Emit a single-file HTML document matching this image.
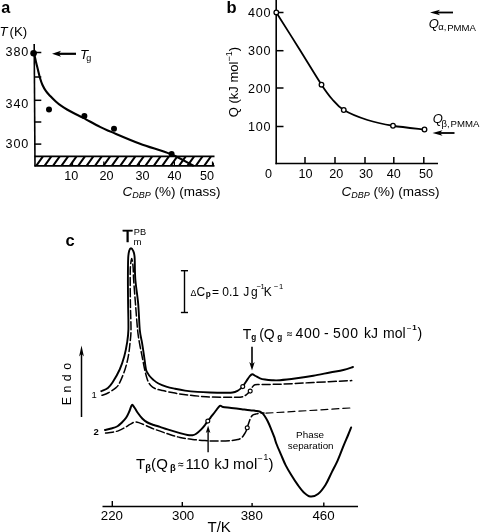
<!DOCTYPE html>
<html><head><meta charset="utf-8"><style>
html,body{margin:0;padding:0;background:#fff;}
body{width:480px;height:532px;overflow:hidden;}
svg{display:block;font-family:"Liberation Sans", sans-serif;will-change:transform;}
text{fill:#000;}
</style></head><body>
<svg width="480" height="532" viewBox="0 0 480 532" font-family='"Liberation Sans", sans-serif'>
<text x="1.2" y="13" font-size="16.2" text-anchor="start" font-weight="bold" font-style="normal" >a</text>
<text x="-0.6" y="36.4" font-size="13.2" font-style="italic">T</text>
<text x="9.6" y="36.4" font-size="13.2" text-anchor="start" font-weight="normal" font-style="normal" >(K)</text>
<text x="5.6" y="56.2" font-size="12.6" text-anchor="start" font-weight="normal" font-style="normal" letter-spacing="0.8">380</text>
<text x="5.6" y="107.6" font-size="12.6" text-anchor="start" font-weight="normal" font-style="normal" letter-spacing="0.8">340</text>
<text x="5.6" y="148.2" font-size="12.6" text-anchor="start" font-weight="normal" font-style="normal" letter-spacing="0.8">300</text>
<line x1="34.2" y1="44" x2="35.0" y2="166.5" stroke="#000" stroke-width="1.6" />
<line x1="34" y1="52.5" x2="41.3" y2="52.5" stroke="#000" stroke-width="1.5" />
<line x1="34" y1="77" x2="41.3" y2="77" stroke="#000" stroke-width="1.5" />
<line x1="34" y1="100.3" x2="41.3" y2="100.3" stroke="#000" stroke-width="1.5" />
<line x1="34" y1="122" x2="41.3" y2="122" stroke="#000" stroke-width="1.5" />
<line x1="34" y1="144.1" x2="41.3" y2="144.1" stroke="#000" stroke-width="1.5" />
<defs><clipPath id="bar"><rect x="35" y="156.5" width="179" height="9"/></clipPath></defs>
<path d="M28.00,165.5 L34.50,156.5 M36.40,165.5 L42.90,156.5 M44.80,165.5 L51.30,156.5 M53.20,165.5 L59.70,156.5 M61.60,165.5 L68.10,156.5 M70.00,165.5 L76.50,156.5 M78.40,165.5 L84.90,156.5 M86.80,165.5 L93.30,156.5 M95.20,165.5 L101.70,156.5 M103.60,165.5 L110.10,156.5 M112.00,165.5 L118.50,156.5 M120.40,165.5 L126.90,156.5 M128.80,165.5 L135.30,156.5 M137.20,165.5 L143.70,156.5 M145.60,165.5 L152.10,156.5 M154.00,165.5 L160.50,156.5 M162.40,165.5 L168.90,156.5 M170.80,165.5 L177.30,156.5 M179.20,165.5 L185.70,156.5 M187.60,165.5 L194.10,156.5 M196.00,165.5 L202.50,156.5 M204.40,165.5 L210.90,156.5 M212.80,165.5 L219.30,156.5" stroke="#000" stroke-width="2.1" clip-path="url(#bar)"/>
<line x1="34.5" y1="156.4" x2="214.5" y2="156.4" stroke="#000" stroke-width="1.6" />
<line x1="34.5" y1="165.8" x2="214.5" y2="165.8" stroke="#000" stroke-width="1.8" />
<line x1="72.5" y1="161.5" x2="72.5" y2="165.5" stroke="#000" stroke-width="1.2" />
<line x1="103.8" y1="161.5" x2="103.8" y2="165.5" stroke="#000" stroke-width="1.2" />
<line x1="139.4" y1="161.5" x2="139.4" y2="165.5" stroke="#000" stroke-width="1.2" />
<line x1="174.4" y1="161.5" x2="174.4" y2="165.5" stroke="#000" stroke-width="1.2" />
<line x1="212.5" y1="161.5" x2="212.5" y2="165.5" stroke="#000" stroke-width="1.2" />
<text x="71.2" y="179.8" font-size="12.6" text-anchor="middle" font-weight="normal" font-style="normal" >10</text>
<text x="106.4" y="179.8" font-size="12.6" text-anchor="middle" font-weight="normal" font-style="normal" >20</text>
<text x="142.4" y="179.8" font-size="12.6" text-anchor="middle" font-weight="normal" font-style="normal" >30</text>
<text x="174.6" y="179.8" font-size="12.6" text-anchor="middle" font-weight="normal" font-style="normal" >40</text>
<text x="207.1" y="179.8" font-size="12.6" text-anchor="middle" font-weight="normal" font-style="normal" >50</text>
<text x="122.6" y="196.3" font-size="13.5"><tspan font-style="italic">C</tspan><tspan font-style="italic" font-size="9" dy="2">DBP</tspan><tspan dy="-2"> (%) (mass)</tspan></text>
<path d="M34.00,53.00 C34.33,54.50 35.33,59.17 36.00,62.00 C36.67,64.83 37.33,67.33 38.00,70.00 C38.67,72.67 39.25,75.50 40.00,78.00 C40.75,80.50 41.50,82.80 42.50,85.00 C43.50,87.20 44.67,89.32 46.00,91.20 C47.33,93.08 48.92,94.63 50.50,96.30 C52.08,97.97 53.75,99.63 55.50,101.20 C57.25,102.77 59.08,104.32 61.00,105.70 C62.92,107.08 64.83,108.23 67.00,109.50 C69.17,110.77 71.21,111.87 74.00,113.30 C76.79,114.73 79.42,115.83 83.75,118.10 C88.08,120.37 95.42,124.60 100.00,126.90 C104.58,129.20 104.58,129.09 111.25,131.90 C117.92,134.71 130.04,140.02 140.00,143.75 C149.96,147.48 162.17,150.68 171.00,154.30 C179.83,157.93 189.33,163.63 193.00,165.50" fill="none" stroke="#000" stroke-width="2.1" stroke-linecap="round" stroke-linejoin="round"  />
<circle cx="33.6" cy="53.3" r="3.3" fill="#000"/>
<circle cx="49" cy="109.5" r="3" fill="#000"/>
<circle cx="84.4" cy="116" r="3" fill="#000"/>
<circle cx="114" cy="128.75" r="3" fill="#000"/>
<circle cx="171.6" cy="154" r="3" fill="#000"/>
<line x1="57.4" y1="53.8" x2="76" y2="53.8" stroke="#000" stroke-width="2.2" />
<polygon points="52,53.8 61,50.8 58.75,53.8 61,56.8" fill="#000"/>
<text x="80" y="59.1" font-size="13.4" font-style="italic">T</text>
<text x="86.2" y="60.5" font-size="9" text-anchor="start" font-weight="normal" font-style="normal" >g</text>
<text x="226.4" y="13.2" font-size="16.5" text-anchor="start" font-weight="bold" font-style="normal" >b</text>
<text x="248.0" y="16.6" font-size="12.6" text-anchor="start" font-weight="normal" font-style="normal" letter-spacing="0.8">400</text>
<text x="248.0" y="55" font-size="12.6" text-anchor="start" font-weight="normal" font-style="normal" letter-spacing="0.8">300</text>
<text x="248.0" y="93" font-size="12.6" text-anchor="start" font-weight="normal" font-style="normal" letter-spacing="0.8">200</text>
<text x="248.0" y="131.3" font-size="12.6" text-anchor="start" font-weight="normal" font-style="normal" letter-spacing="0.8">100</text>
<line x1="276.2" y1="0" x2="276.2" y2="164.2" stroke="#000" stroke-width="1.6" />
<line x1="276" y1="12.5" x2="283.5" y2="12.5" stroke="#000" stroke-width="1.5" />
<line x1="276" y1="50.7" x2="283.5" y2="50.7" stroke="#000" stroke-width="1.5" />
<line x1="276" y1="88" x2="283.5" y2="88" stroke="#000" stroke-width="1.5" />
<line x1="276" y1="126.5" x2="283.5" y2="126.5" stroke="#000" stroke-width="1.5" />
<line x1="275.5" y1="163.5" x2="438" y2="163.5" stroke="#000" stroke-width="1.6" />
<line x1="305" y1="157" x2="305" y2="163" stroke="#000" stroke-width="1.5" />
<line x1="335" y1="157" x2="335" y2="163" stroke="#000" stroke-width="1.5" />
<line x1="365" y1="157" x2="365" y2="163" stroke="#000" stroke-width="1.5" />
<line x1="393.8" y1="157" x2="393.8" y2="163" stroke="#000" stroke-width="1.5" />
<line x1="423.8" y1="157" x2="423.8" y2="163" stroke="#000" stroke-width="1.5" />
<text x="268.6" y="178" font-size="12.6" text-anchor="middle" font-weight="normal" font-style="normal" >0</text>
<text x="305.4" y="178" font-size="12.6" text-anchor="middle" font-weight="normal" font-style="normal" >10</text>
<text x="336.2" y="178" font-size="12.6" text-anchor="middle" font-weight="normal" font-style="normal" >20</text>
<text x="366" y="178" font-size="12.6" text-anchor="middle" font-weight="normal" font-style="normal" >30</text>
<text x="393.8" y="178" font-size="12.6" text-anchor="middle" font-weight="normal" font-style="normal" >40</text>
<text x="426" y="178" font-size="12.6" text-anchor="middle" font-weight="normal" font-style="normal" >50</text>
<text x="341.6" y="195.5" font-size="13.5"><tspan font-style="italic">C</tspan><tspan font-style="italic" font-size="9" dy="2">DBP</tspan><tspan dy="-2"> (%) (mass)</tspan></text>
<text transform="translate(238.0,117.2) rotate(-90)" font-size="13">Q (kJ mol<tspan font-size="9" dy="-6">−1</tspan><tspan dy="6">)</tspan></text>
<path d="M276.30,12.40 C280.08,18.42 291.47,36.45 299.00,48.50 C306.53,60.55 316.00,76.28 321.50,84.70 C327.00,93.12 328.29,94.78 332.00,99.00 C335.71,103.22 337.83,106.50 343.75,110.00 C349.67,113.50 359.29,117.38 367.50,120.00 C375.71,122.62 383.50,124.17 393.00,125.75 C402.50,127.33 419.25,128.88 424.50,129.50" fill="none" stroke="#000" stroke-width="1.8" stroke-linecap="round" stroke-linejoin="round"  />
<circle cx="276.3" cy="12.4" r="2.3" fill="#fff" stroke="#000" stroke-width="1.3"/>
<circle cx="321.5" cy="84.7" r="2.3" fill="#fff" stroke="#000" stroke-width="1.3"/>
<circle cx="343.75" cy="110" r="2.3" fill="#fff" stroke="#000" stroke-width="1.3"/>
<circle cx="393" cy="125.75" r="2.3" fill="#fff" stroke="#000" stroke-width="1.3"/>
<circle cx="424.5" cy="129.5" r="2.3" fill="#fff" stroke="#000" stroke-width="1.3"/>
<line x1="436.0" y1="12.5" x2="453" y2="12.5" stroke="#000" stroke-width="1.8" />
<polygon points="430,12.5 440,9.7 437.5,12.5 440,15.3" fill="#000"/>
<text x="428.7" y="27.6" font-size="13" font-style="italic">Q</text>
<text x="438.3" y="30.4" font-size="9.5" text-anchor="start" font-weight="normal" font-style="normal" >α,</text>
<text x="447.2" y="31.2" font-size="9.6" text-anchor="start" font-weight="normal" font-style="normal" >PMMA</text>
<line x1="438.5" y1="133" x2="454.5" y2="133" stroke="#000" stroke-width="1.8" />
<polygon points="432.5,133 442.5,130.2 440.0,133 442.5,135.8" fill="#000"/>
<text x="432.7" y="123.0" font-size="13" font-style="italic">Q</text>
<text x="441.5" y="127.0" font-size="9.5" text-anchor="start" font-weight="normal" font-style="normal" >β,</text>
<text x="450.6" y="127.3" font-size="9.6" text-anchor="start" font-weight="normal" font-style="normal" >PMMA</text>
<text x="65.5" y="245.6" font-size="16.5" text-anchor="start" font-weight="bold" font-style="normal" >c</text>
<text x="122.6" y="241.8" font-size="16.8" text-anchor="start" font-weight="normal" font-style="normal" stroke="#000" stroke-width="0.55">T</text>
<text x="133.8" y="234.6" font-size="9.2" text-anchor="start" font-weight="normal" font-style="normal" >PB</text>
<text x="133.5" y="244.7" font-size="9.6" text-anchor="start" font-weight="normal" font-style="normal" >m</text>
<line x1="184.5" y1="270.7" x2="184.5" y2="312.5" stroke="#000" stroke-width="1.4" />
<line x1="180.9" y1="270.7" x2="188" y2="270.7" stroke="#000" stroke-width="1.4" />
<line x1="180.9" y1="312.5" x2="188" y2="312.5" stroke="#000" stroke-width="1.4" />
<text x="190.5" y="295.6" font-size="8.8" text-anchor="start" font-weight="normal" font-style="normal" >Δ</text>
<text x="196.4" y="295.8" font-size="12" text-anchor="start" font-weight="normal" font-style="normal" >C</text>
<text x="205.7" y="297.2" font-size="8.2" text-anchor="start" font-weight="bold" font-style="normal" >p</text>
<text x="212.0" y="295.8" font-size="12" text-anchor="start" font-weight="normal" font-style="normal" >=</text>
<text x="222.3" y="295.8" font-size="12" text-anchor="start" font-weight="normal" font-style="normal" >0.1</text>
<text x="243.3" y="295.8" font-size="12" text-anchor="start" font-weight="normal" font-style="normal" >J</text>
<text x="250.9" y="295.8" font-size="12" text-anchor="start" font-weight="normal" font-style="normal" >g</text>
<text x="256.4" y="289.3" font-size="7.6" text-anchor="start" font-weight="normal" font-style="normal" >−</text>
<text x="260.6" y="289.4" font-size="7.6" text-anchor="start" font-weight="normal" font-style="normal" >1</text>
<text x="263.8" y="295.8" font-size="12" text-anchor="start" font-weight="normal" font-style="normal" >K</text>
<text x="273.7" y="289.3" font-size="7.6" text-anchor="start" font-weight="normal" font-style="normal" >−</text>
<text x="279.0" y="289.4" font-size="7.6" text-anchor="start" font-weight="normal" font-style="normal" >1</text>
<text x="242.8" y="338.5" font-size="14" text-anchor="start" font-weight="normal" font-style="normal" >T</text>
<text x="251.2" y="340.2" font-size="8.2" text-anchor="start" font-weight="bold" font-style="normal" >g</text>
<text x="259.2" y="338.5" font-size="14" text-anchor="start" font-weight="normal" font-style="normal" >(</text>
<text x="263.8" y="338.5" font-size="14" text-anchor="start" font-weight="normal" font-style="normal" >Q</text>
<text x="277.2" y="340.2" font-size="8.2" text-anchor="start" font-weight="bold" font-style="normal" >g</text>
<path d="M287.0,333.14 C288.50,331.62 290.50,334.18 292.0,332.66 M287.0,335.44 C288.50,333.92 290.50,336.48 292.0,334.96 " fill="none" stroke="#000" stroke-width="0.95"/>
<text x="295.6" y="338.3" font-size="14" text-anchor="start" font-weight="normal" font-style="normal" letter-spacing="0.5">400</text>
<text x="324.0" y="338.3" font-size="14" text-anchor="start" font-weight="normal" font-style="normal" >-</text>
<text x="333.1" y="338.3" font-size="14" text-anchor="start" font-weight="normal" font-style="normal" letter-spacing="0.8">500</text>
<text x="363.9" y="338.3" font-size="14" text-anchor="start" font-weight="normal" font-style="normal" >kJ</text>
<text x="383.0" y="337.6" font-size="14" text-anchor="start" font-weight="normal" font-style="normal" >mol</text>
<text x="406.8" y="331.2" font-size="8.5" text-anchor="start" font-weight="normal" font-style="normal" >−</text>
<text x="412.3" y="329.9" font-size="8" text-anchor="start" font-weight="bold" font-style="normal" >1</text>
<text x="417.6" y="338.0" font-size="14" text-anchor="start" font-weight="normal" font-style="normal" >)</text>
<line x1="252" y1="365.5" x2="252" y2="346.8" stroke="#000" stroke-width="1.6" />
<polygon points="252,370.6 249.3,362.1 252,364.225 254.7,362.1" fill="#000"/>
<line x1="81.5" y1="352.20000000000005" x2="81.5" y2="417" stroke="#000" stroke-width="1.5" />
<polygon points="81.5,345.6 79.1,356.6 81.5,353.85 83.9,356.6" fill="#000"/>
<text transform="translate(71.2,405.3) rotate(-90)" font-size="12.4" letter-spacing="4.5">Endo</text>
<text x="91.4" y="397.8" font-size="9.5" text-anchor="start" font-weight="normal" font-style="normal" >1</text>
<text x="93.6" y="434.9" font-size="9.5" text-anchor="start" font-weight="bold" font-style="normal" >2</text>
<path d="M101.30,391.20 C102.40,390.65 106.03,389.33 107.90,387.90 C109.77,386.47 110.53,385.67 112.50,382.60 C114.47,379.53 117.73,373.88 119.70,369.50 C121.67,365.12 123.08,360.68 124.30,356.30 C125.52,351.92 126.32,347.65 127.00,343.20 C127.68,338.75 128.22,336.13 128.40,329.60 C128.58,323.07 128.18,312.43 128.10,304.00 C128.02,295.57 127.88,286.67 127.90,279.00 C127.92,271.33 127.97,262.75 128.20,258.00 C128.43,253.25 128.83,252.13 129.30,250.50 C129.77,248.87 130.38,248.20 131.00,248.20 C131.62,248.20 132.40,249.03 133.00,250.50 C133.60,251.97 134.22,252.25 134.60,257.00 C134.98,261.75 134.70,271.17 135.30,279.00 C135.90,286.83 137.45,295.50 138.20,304.00 C138.95,312.50 139.15,323.47 139.80,330.00 C140.45,336.53 141.38,338.82 142.10,343.20 C142.82,347.58 143.45,351.92 144.10,356.30 C144.75,360.68 145.35,366.62 146.00,369.50 C146.65,372.38 147.33,372.43 148.00,373.60 C148.67,374.77 149.08,375.43 150.00,376.50 C150.92,377.57 152.08,378.83 153.50,380.00 C154.92,381.17 156.38,382.40 158.50,383.50 C160.62,384.60 163.50,385.73 166.25,386.60 C169.00,387.48 171.88,388.08 175.00,388.75 C178.12,389.42 181.25,390.08 185.00,390.60 C188.75,391.12 193.33,391.58 197.50,391.90 C201.67,392.22 205.42,392.37 210.00,392.50 C214.58,392.63 221.25,392.70 225.00,392.70 C228.75,392.70 230.42,392.82 232.50,392.50 C234.58,392.18 236.04,391.53 237.50,390.80 C238.96,390.07 240.38,388.82 241.25,388.10 C242.12,387.38 241.92,387.64 242.75,386.50 C243.58,385.36 245.12,382.92 246.25,381.25 C247.38,379.58 248.49,377.68 249.50,376.50 C250.51,375.32 251.28,374.28 252.30,374.20 C253.32,374.12 254.32,375.32 255.60,376.00 C256.88,376.68 258.43,377.72 260.00,378.30 C261.57,378.88 263.00,379.18 265.00,379.50 C267.00,379.82 269.50,380.08 272.00,380.20 C274.50,380.32 275.88,380.52 280.00,380.20 C284.12,379.88 291.15,379.03 296.70,378.30 C302.25,377.57 307.75,376.77 313.30,375.80 C318.85,374.83 325.00,373.47 330.00,372.50 C335.00,371.53 339.47,370.92 343.30,370.00 C347.13,369.08 351.38,367.50 353.00,367.00" fill="none" stroke="#000" stroke-width="1.9" stroke-linecap="round" stroke-linejoin="round"  />
<path d="M102.00,395.30 C103.00,394.92 105.70,394.23 108.00,393.00 C110.30,391.77 113.85,389.63 115.80,387.90 C117.75,386.17 118.17,385.67 119.70,382.60 C121.23,379.53 123.57,373.88 125.00,369.50 C126.43,365.12 127.47,360.68 128.30,356.30 C129.13,351.92 129.55,347.58 130.00,343.20 C130.45,338.82 130.93,336.53 131.00,330.00 C131.07,323.47 130.53,312.50 130.40,304.00 C130.27,295.50 130.20,285.17 130.20,279.00 C130.20,272.83 130.15,270.42 130.40,267.00 C130.65,263.58 131.25,258.50 131.70,258.50 C132.15,258.50 132.78,263.58 133.10,267.00 C133.42,270.42 133.20,272.83 133.60,279.00 C134.00,285.17 134.83,295.50 135.50,304.00 C136.17,312.50 136.93,323.47 137.60,330.00 C138.27,336.53 138.75,338.82 139.50,343.20 C140.25,347.58 141.23,351.92 142.10,356.30 C142.97,360.68 143.80,365.55 144.70,369.50 C145.60,373.45 146.53,377.38 147.50,380.00 C148.47,382.62 149.25,383.78 150.50,385.20 C151.75,386.62 153.00,387.60 155.00,388.50 C157.00,389.40 159.17,389.83 162.50,390.60 C165.83,391.37 170.83,392.37 175.00,393.10 C179.17,393.83 183.33,394.48 187.50,395.00 C191.67,395.52 195.83,395.90 200.00,396.25 C204.17,396.60 207.83,396.93 212.50,397.10 C217.17,397.28 223.42,397.28 228.00,397.30 C232.58,397.32 237.17,397.48 240.00,397.20 C242.83,396.92 243.65,396.28 245.00,395.60 C246.35,394.92 247.23,393.87 248.10,393.10 C248.97,392.33 249.47,392.03 250.20,391.00 C250.93,389.97 251.70,387.94 252.50,386.90 C253.30,385.86 253.75,385.17 255.00,384.75 C256.25,384.33 255.83,384.49 260.00,384.40 C264.17,384.31 271.12,384.52 280.00,384.20 C288.88,383.88 301.35,383.10 313.30,382.50 C325.25,381.90 345.30,380.92 351.70,380.60" fill="none" stroke="#000" stroke-width="1.5" stroke-linecap="round" stroke-linejoin="round" stroke-dasharray="8,3" />
<circle cx="242.75" cy="386.6" r="1.95" fill="#fff" stroke="#000" stroke-width="1.15"/>
<circle cx="250.2" cy="391.1" r="1.95" fill="#fff" stroke="#000" stroke-width="1.15"/>
<path d="M105.00,430.00 C106.04,429.75 109.17,429.12 111.25,428.50 C113.33,427.88 115.72,427.25 117.50,426.25 C119.28,425.25 120.44,423.96 121.90,422.50 C123.36,421.04 125.00,419.38 126.25,417.50 C127.50,415.62 128.46,413.33 129.40,411.25 C130.34,409.17 131.07,405.62 131.90,405.00 C132.73,404.38 133.47,406.25 134.40,407.50 C135.33,408.75 136.15,410.62 137.50,412.50 C138.85,414.38 140.83,417.08 142.50,418.75 C144.17,420.42 145.62,421.46 147.50,422.50 C149.38,423.54 151.67,424.27 153.75,425.00 C155.83,425.73 157.71,426.17 160.00,426.90 C162.29,427.63 164.17,428.37 167.50,429.40 C170.83,430.43 176.67,432.17 180.00,433.10 C183.33,434.03 185.42,434.64 187.50,435.00 C189.58,435.36 191.04,435.46 192.50,435.25 C193.96,435.04 194.79,434.73 196.25,433.75 C197.71,432.77 199.79,430.86 201.25,429.40 C202.71,427.94 203.91,426.38 205.00,425.00 C206.09,423.62 206.90,422.30 207.80,421.10 C208.70,419.90 209.10,419.48 210.40,417.80 C211.70,416.12 214.03,413.00 215.60,411.00 C217.17,409.00 218.58,406.48 219.80,405.80 C221.02,405.12 220.99,406.55 222.90,406.90 C224.81,407.25 228.12,407.51 231.25,407.90 C234.38,408.29 238.57,408.85 241.70,409.25 C244.82,409.65 247.20,409.98 250.00,410.30 C252.80,410.62 256.53,410.78 258.50,411.20 C260.47,411.62 260.83,412.08 261.80,412.80 C262.77,413.52 263.32,414.08 264.30,415.50 C265.28,416.92 266.58,419.08 267.70,421.30 C268.82,423.52 269.90,426.15 271.00,428.80 C272.10,431.45 273.38,434.67 274.30,437.20 C275.22,439.73 275.38,441.10 276.50,444.00 C277.62,446.90 279.48,451.08 281.00,454.60 C282.52,458.12 283.83,461.60 285.60,465.10 C287.37,468.60 289.60,472.33 291.60,475.60 C293.60,478.87 295.60,481.93 297.60,484.70 C299.60,487.47 301.47,490.23 303.60,492.20 C305.73,494.17 308.00,496.20 310.40,496.50 C312.80,496.80 315.47,495.97 318.00,494.00 C320.53,492.03 323.33,488.27 325.60,484.70 C327.87,481.13 329.60,476.62 331.60,472.60 C333.60,468.58 335.60,465.10 337.60,460.60 C339.60,456.10 341.85,449.87 343.60,445.60 C345.35,441.33 346.85,438.02 348.10,435.00 C349.35,431.98 350.60,428.75 351.10,427.50" fill="none" stroke="#000" stroke-width="2.0" stroke-linecap="round" stroke-linejoin="round"  />
<path d="M105.60,433.10 C106.75,432.96 110.31,432.67 112.50,432.25 C114.69,431.83 116.67,431.39 118.75,430.60 C120.83,429.81 123.12,428.53 125.00,427.50 C126.88,426.47 128.33,425.33 130.00,424.40 C131.67,423.47 133.33,422.12 135.00,421.90 C136.67,421.68 137.92,422.38 140.00,423.10 C142.08,423.83 145.00,425.20 147.50,426.25 C150.00,427.30 151.67,428.15 155.00,429.40 C158.33,430.65 163.33,432.40 167.50,433.75 C171.67,435.10 175.83,436.56 180.00,437.50 C184.17,438.44 188.33,438.88 192.50,439.40 C196.67,439.92 201.25,440.33 205.00,440.60 C208.75,440.87 210.55,441.02 215.00,441.00 C219.45,440.98 227.87,440.75 231.70,440.50 C235.53,440.25 236.32,439.98 238.00,439.50 C239.68,439.02 240.75,438.48 241.80,437.60 C242.85,436.73 243.60,435.30 244.30,434.25 C245.00,433.20 245.51,432.41 246.00,431.30 C246.49,430.19 246.83,428.85 247.25,427.60 C247.67,426.35 247.94,425.40 248.50,423.80 C249.06,422.20 249.90,419.45 250.60,418.00 C251.30,416.55 251.80,415.77 252.70,415.10 C253.60,414.43 254.75,414.35 256.00,414.00 C257.25,413.65 258.87,413.17 260.20,413.00 C261.53,412.83 263.37,413.00 264.00,413.00" fill="none" stroke="#000" stroke-width="1.5" stroke-linecap="round" stroke-linejoin="round" stroke-dasharray="8,3" />
<path d="M266,413.2 L350,408" fill="none" stroke="#000" stroke-width="1.2" stroke-linecap="round" stroke-linejoin="round" stroke-dasharray="7,4" />
<circle cx="207.8" cy="421.1" r="1.95" fill="#fff" stroke="#000" stroke-width="1.15"/>
<circle cx="247.25" cy="427.8" r="1.95" fill="#fff" stroke="#000" stroke-width="1.15"/>
<line x1="208.1" y1="430.1" x2="208.1" y2="452.3" stroke="#000" stroke-width="1.4" />
<polygon points="208.1,425.6 205.79999999999998,433.1 208.1,431.225 210.4,433.1" fill="#000"/>
<text x="136.0" y="468.6" font-size="15" text-anchor="start" font-weight="normal" font-style="normal" >T</text>
<text x="145.3" y="470.6" font-size="9.4" text-anchor="start" font-weight="bold" font-style="normal" >β</text>
<text x="151.0" y="468.8" font-size="15" text-anchor="start" font-weight="normal" font-style="normal" >(</text>
<text x="156.3" y="468.8" font-size="15" text-anchor="start" font-weight="normal" font-style="normal" >Q</text>
<text x="169.9" y="470.6" font-size="9.4" text-anchor="start" font-weight="bold" font-style="normal" >β</text>
<path d="M178.3,463.64 C179.80,462.12 181.80,464.68 183.3,463.16 M178.3,465.94 C179.80,464.42 181.80,466.98 183.3,465.46 " fill="none" stroke="#000" stroke-width="0.95"/>
<text x="185.4" y="469.0" font-size="15" text-anchor="start" font-weight="normal" font-style="normal" >110</text>
<text x="214.2" y="469.0" font-size="15" text-anchor="start" font-weight="normal" font-style="normal" >kJ</text>
<text x="233.1" y="469.0" font-size="15" text-anchor="start" font-weight="normal" font-style="normal" >mol</text>
<text x="257.2" y="462.0" font-size="9.2" text-anchor="start" font-weight="normal" font-style="normal" >−</text>
<text x="263.6" y="460.4" font-size="8.5" text-anchor="start" font-weight="normal" font-style="normal" >1</text>
<text x="268.6" y="469.2" font-size="15" text-anchor="start" font-weight="normal" font-style="normal" >)</text>
<text x="310.1" y="438.4" font-size="9.9" text-anchor="middle" font-weight="normal" font-style="normal" >Phase</text>
<text x="310.7" y="449.0" font-size="9.8" text-anchor="middle" font-weight="normal" font-style="normal" >separation</text>
<line x1="102.5" y1="506.5" x2="358" y2="506.5" stroke="#000" stroke-width="1.6" />
<line x1="112.3" y1="501" x2="112.3" y2="506" stroke="#000" stroke-width="1.4" />
<line x1="182.3" y1="502" x2="182.3" y2="506" stroke="#000" stroke-width="1.4" />
<line x1="252.1" y1="503" x2="252.1" y2="506" stroke="#000" stroke-width="1.4" />
<line x1="323.8" y1="502.5" x2="323.8" y2="506" stroke="#000" stroke-width="1.4" />
<text x="111.9" y="520.1" font-size="13.3" text-anchor="middle" font-weight="normal" font-style="normal" >220</text>
<text x="183.1" y="520.1" font-size="13.3" text-anchor="middle" font-weight="normal" font-style="normal" >300</text>
<text x="251.8" y="520.1" font-size="13.3" text-anchor="middle" font-weight="normal" font-style="normal" >380</text>
<text x="323.5" y="520.1" font-size="13.3" text-anchor="middle" font-weight="normal" font-style="normal" >460</text>
<text x="207.5" y="532" font-size="15" text-anchor="start" font-weight="normal" font-style="normal" >T/K</text>
</svg>
</body></html>
